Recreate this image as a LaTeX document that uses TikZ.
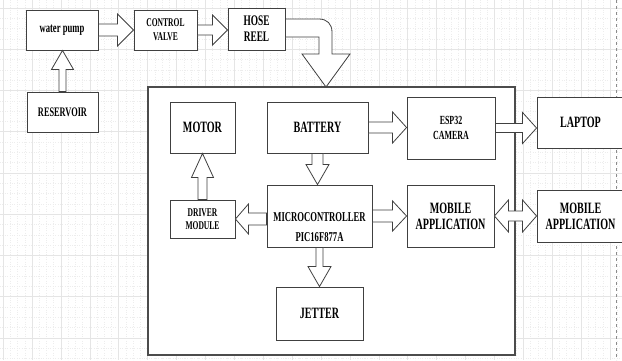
\documentclass[tikz,border=0pt]{standalone}
\usepackage{fontspec}
\setmainfont{Liberation Serif}[FakeStretch=0.64]
\usetikzlibrary{calc}

% straight block arrow: tail, tip, half shaft width, half head width, head length
\newcommand\blockarrow[5]{%
  \coordinate (ba-t) at #1;
  \coordinate (ba-h) at #2;
  \coordinate (ba-b) at ($(ba-h)!#5!(ba-t)$);
  \draw[arrowbody]
    ($(ba-t)!#3!90:(ba-h)$) -- ($(ba-b)!#3!90:(ba-h)$) -- ($(ba-b)!#4!90:(ba-h)$)
    -- (ba-h)
    -- ($(ba-b)!#4!-90:(ba-h)$) -- ($(ba-b)!#3!-90:(ba-h)$) -- ($(ba-t)!#3!-90:(ba-h)$) -- cycle;
}
% block arrow with a head at both ends
\newcommand\doubleblockarrow[5]{%
  \coordinate (da-t) at #1;
  \coordinate (da-h) at #2;
  \coordinate (da-b) at ($(da-h)!#5!(da-t)$);
  \coordinate (da-c) at ($(da-t)!#5!(da-h)$);
  \draw[arrowbody]
    (da-t) -- ($(da-c)!#4!90:(da-h)$) -- ($(da-c)!#3!90:(da-h)$)
    -- ($(da-b)!#3!90:(da-h)$) -- ($(da-b)!#4!90:(da-h)$) -- (da-h)
    -- ($(da-b)!#4!-90:(da-h)$) -- ($(da-b)!#3!-90:(da-h)$)
    -- ($(da-c)!#3!-90:(da-h)$) -- ($(da-c)!#4!-90:(da-h)$) -- cycle;
}

\tikzset{
  box/.style={draw=black!75, line width=0.9pt, fill=white, inner sep=0pt, align=center},
  fs/.style 2 args={font=\bfseries\fontsize{#1}{#2}\selectfont},
  lbl/.style={inner sep=0pt, align=center},
  arrowbody/.style={draw=black!75, line width=0.8pt, fill=white, line join=miter},
  gridmajor/.style={draw=black!10, line width=0.6pt},
  gridminor/.style={draw=black!7, line width=0.4pt, dotted},
}

\begin{document}
\begin{tikzpicture}[x=1pt, y=-1pt]
\clip (0,0) rectangle (622,360);
\fill[white] (0,0) rectangle (622,360);

% background grid
\foreach \k in {0,...,21} {
  \foreach \q in {0.25,0.5,0.75}
    \draw[gridminor] ({3.1+28.9*(\k+\q)},0) -- ++(0,360);
}
\foreach \k in {-1,...,8} {
  \foreach \q in {0.25,0.5,0.75}
    \draw[gridminor] (0,{8+41.25*(\k+\q)}) -- ++(622,0);
}
\foreach \k in {0,...,21} \draw[gridmajor] ({3.1+28.9*\k},0) -- ++(0,360);
\foreach \k in {0,...,8} \draw[gridmajor] (0,{8+41.25*\k}) -- ++(622,0);
\draw[black!45, line width=0.5pt, dashed] (616.5,0) -- (616.5,360);

% water supply line
\node[box, fs={13.5}{15}, minimum width=72pt, minimum height=40pt] (pump) at (62,30) {water pump};
\node[box, fs={11.8}{14}, minimum width=63pt, minimum height=40pt] (valve) at (165.5,30) {CONTROL\\VALVE};
\node[box, fs={14.6}{16}, minimum width=57pt, minimum height=42pt] (hose) at (256.5,29) {HOSE\\REEL};
\node[box, fs={13}{15}, minimum width=71pt, minimum height=40pt] (reservoir) at (62.5,112) {RESERVOIR};

% robot enclosure
\node[draw=black!70, line width=1.1pt, fill=white, minimum width=367pt, minimum height=268pt, inner sep=0pt] (robot) at (331.5,221) {};

\node[box, fs={15.75}{17}, minimum width=65pt, minimum height=51pt] (motor) at (202.5,127.5) {MOTOR};
\node[box, fs={15.75}{17}, minimum width=101pt, minimum height=51pt] (battery) at (317.5,127.5) {BATTERY};
\node[box, fs={11.8}{13.5}, minimum width=65pt, minimum height=38pt] (driver) at (202.5,219) {DRIVER\\MODULE};
\node[box, minimum width=105pt, minimum height=62pt] (micro) at (319.5,216) {};
\node[lbl, fs={13.5}{20}] (microtext) at ([yshift=-11pt]micro.center) {MICROCONTROLLER\\PIC16F877A};
\node[box, fs={12.4}{14.5}, minimum width=88pt, minimum height=62pt] (esp) at (451,128) {ESP32\\CAMERA};
\node[box, fs={15.75}{16}, minimum width=87pt, minimum height=62pt] (mobin) at (450.5,216) {MOBILE\\APPLICATION};
\node[box, fs={15.75}{17}, minimum width=87pt, minimum height=53pt] (jetter) at (319.5,313.5) {JETTER};

% external devices
\node[box, fs={15.75}{17}, minimum width=87pt, minimum height=51pt] (laptop) at (580.5,122.5) {LAPTOP};
\node[box, fs={15.75}{16}, minimum width=87pt, minimum height=52pt] (mobout) at (580.5,216) {MOBILE\\APPLICATION};

% block arrows
\blockarrow{(pump.east)}{(valve.west)}{6pt}{16pt}{16pt}
\blockarrow{(valve.east)}{(valve.east -| hose.west)}{5pt}{15pt}{15pt}
\blockarrow{(reservoir.north)}{(reservoir.north |- pump.south)}{3.5pt}{11pt}{19pt}
\blockarrow{(battery.south)}{(battery.south |- micro.north)}{5.5pt}{11.5pt}{20pt}
\blockarrow{(driver.north)}{(motor.south)}{4.5pt}{11pt}{24pt}
\blockarrow{(micro.west |- driver.east)}{(driver.east)}{6pt}{15pt}{13pt}
\blockarrow{(battery.east)}{(battery.east -| esp.west)}{5.5pt}{15.5pt}{14pt}
\blockarrow{(micro.east)}{(micro.east -| mobin.west)}{6pt}{15pt}{14pt}
\blockarrow{(esp.east)}{(esp.east -| laptop.west)}{4.5pt}{15.5pt}{14pt}
\doubleblockarrow{(mobin.east)}{(mobin.east -| mobout.west)}{5pt}{16pt}{14pt}
\blockarrow{(micro.south)}{(jetter.north)}{3.5pt}{11.5pt}{20pt}

% bent arrow from the hose reel into the enclosure
\coordinate (reeltip) at (326,87);
\draw[arrowbody]
  ([yshift=10pt]hose.east) -- (319,19) .. controls (327,19) and (332,24) .. (332,32)
  -- (332,54) -- (350,54) -- (reeltip) -- (302,54) -- (319,54) -- (319,37)
  -- ([yshift=-8pt]hose.east) -- cycle;
\end{tikzpicture}
\end{document}
